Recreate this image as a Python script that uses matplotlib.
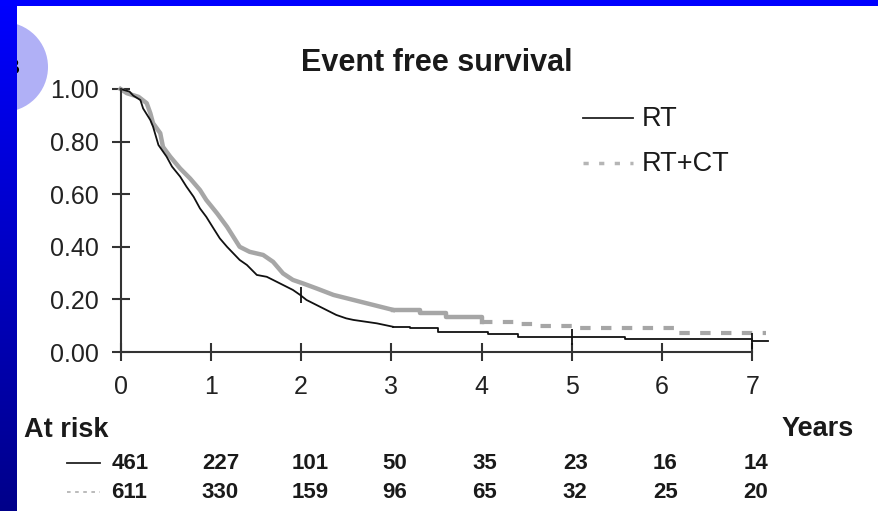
import numpy as np
import matplotlib
matplotlib.use("Agg")
import matplotlib.pyplot as plt
from matplotlib.lines import Line2D
from matplotlib.patches import Ellipse, Rectangle

plt.rcParams['font.family'] = ['Liberation Sans', 'DejaVu Sans']

# Kaplan-Meier curves (dense part traced, tail as steps)
rt_time = [0, 0.10, 0.14, 0.22, 0.25, 0.33, 0.36, 0.42, 0.51, 0.57, 0.66, 0.73, 0.81, 0.88,
           0.95, 1.03, 1.10, 1.18, 1.25, 1.32, 1.40, 1.51, 1.62, 1.69, 1.80, 1.91, 1.99,
           2.06, 2.17, 2.28, 2.39, 2.50, 2.58, 2.84, 3.02, 3.21, 3.52, 4.07, 4.40, 5.59,
           7.00, 7.17]
rt_surv = [1.0, 0.99, 0.975, 0.958, 0.926, 0.882, 0.857, 0.787, 0.743, 0.705, 0.667, 0.629,
           0.590, 0.546, 0.514, 0.470, 0.432, 0.400, 0.375, 0.350, 0.331, 0.293, 0.286,
           0.274, 0.255, 0.236, 0.217, 0.198, 0.179, 0.160, 0.141, 0.128, 0.122, 0.109,
           0.096, 0.090, 0.077, 0.068, 0.058, 0.048, 0.040, 0.040]

ct_time = [0, 0.07, 0.20, 0.29, 0.33, 0.36, 0.44, 0.47, 0.55, 0.66, 0.77, 0.88, 0.95, 1.07,
           1.18, 1.25, 1.32, 1.43, 1.58, 1.69, 1.80, 1.91, 2.02, 2.17, 2.36, 2.58, 2.80,
           3.02, 3.32, 3.61, 4.01, 4.39, 4.65, 5.01, 6.15, 7.15]
ct_surv = [1.0, 0.984, 0.97, 0.946, 0.908, 0.870, 0.832, 0.780, 0.743, 0.698, 0.660, 0.616,
           0.578, 0.527, 0.476, 0.438, 0.400, 0.381, 0.369, 0.343, 0.299, 0.274, 0.261,
           0.242, 0.217, 0.198, 0.179, 0.160, 0.147, 0.134, 0.114, 0.107, 0.100, 0.090,
           0.071, 0.071]

rt_censor = [2, 5, 7]
risk_years = [0, 1, 2, 3, 4, 5, 6, 7]
risk_rt = [461, 227, 101, 50, 35, 23, 16, 14]
risk_ct = [611, 330, 159, 96, 65, 32, 25, 20]
yticks = [0.0, 0.2, 0.4, 0.6, 0.8, 1.0]

W, H = 879, 511


def fx(px):
    return px / W


def fy(py):
    return 1 - py / H


def plot_km(ax, t, s, step_from, **kw):
    # dense early part looks continuous, the sparse tail shows its steps
    t = np.asarray(t)
    s = np.asarray(s)
    k = np.searchsorted(t, step_from)
    ax.plot(t[:k + 1], s[:k + 1], **kw)
    ax.plot(t[k:], s[k:], drawstyle='steps-post', **kw)


fig = plt.figure(figsize=(W / 100, H / 100), dpi=100)
fig.patch.set_facecolor('white')

ax = fig.add_axes([fx(107.0), fy(367.8), fx(779.4 - 107.0), (367.8 - 81.1) / H])
ax.set_facecolor('none')
ax.set_xlim(-0.15, 7.3)
ax.set_ylim(-0.06, 1.03)

axc = '#333333'
for side in ['top', 'right']:
    ax.spines[side].set_visible(False)
ax.spines['left'].set_position(('data', 0))
ax.spines['bottom'].set_position(('data', 0))
ax.spines['left'].set_bounds(0, 1)
ax.spines['bottom'].set_bounds(0, 7)
for side in ['left', 'bottom']:
    ax.spines[side].set_color(axc)
    ax.spines[side].set_linewidth(1.5)

ax.set_xticks(risk_years)
ax.set_yticks(yticks)
ax.set_yticklabels([f'{v:.2f}' for v in yticks])
ax.tick_params(direction='inout', length=13, width=1.5, color=axc,
               labelsize=18, labelcolor='#222222')
ax.tick_params(axis='y', pad=9)
ax.tick_params(axis='x', pad=10)

gray = '#a6a6a6'
ct_t = np.array(ct_time)
ct_s = np.array(ct_surv)
cut = np.searchsorted(ct_t, 4.01)
plot_km(ax, ct_t[:cut + 1], ct_s[:cut + 1], 3.0, color=gray, lw=3.2)
ax.plot(ct_t[cut:], ct_s[cut:], drawstyle='steps-post', color=gray, lw=3.0,
        linestyle=(0, (2.5, 2.5)))
plot_km(ax, rt_time, rt_surv, 3.0, color='#111111', lw=1.3)
ax.plot(rt_censor, [rt_surv[np.searchsorted(rt_time, c, side='right') - 1] for c in rt_censor],
        linestyle='none', marker='|', markersize=12, mew=1.3, color='#111111')

fig.text(fx(437), fy(63), 'Event free survival', ha='center', va='center',
         fontsize=22, fontweight='bold', color='#1a1a1a')

# legend
fig.add_artist(Line2D([fx(583), fx(633)], [fy(118), fy(118)], color='#222222', lw=1.3))
fig.add_artist(Line2D([fx(583), fx(633)], [fy(163), fy(163)], color='#b5b5b5', lw=2.5,
                      linestyle=(0, (1.5, 3))))
fig.text(fx(642), fy(119), 'RT', ha='left', va='center', fontsize=19.5, color='#1a1a1a')
fig.text(fx(642), fy(164), 'RT+CT', ha='left', va='center', fontsize=19.5, color='#1a1a1a')

# at-risk table
fig.text(fx(24), fy(430), 'At risk', ha='left', va='center', fontsize=19.5,
         fontweight='bold', color='#1a1a1a')
fig.text(fx(782), fy(429), 'Years', ha='left', va='center', fontsize=19.5,
         fontweight='bold', color='#1a1a1a')
trans = matplotlib.transforms.blended_transform_factory(ax.transData, fig.transFigure)
for yr, a, b in zip(risk_years, risk_rt, risk_ct):
    ax.text(yr - 0.1, fy(463), str(a), transform=trans, ha='left', va='center',
            fontsize=16, fontweight='bold', color='#1a1a1a')
    ax.text(yr - 0.1, fy(492), str(b), transform=trans, ha='left', va='center',
            fontsize=16, fontweight='bold', color='#1a1a1a')
fig.add_artist(Line2D([fx(67), fx(100)], [fy(463), fy(463)], color='#222222', lw=1.3))
fig.add_artist(Line2D([fx(67), fx(100)], [fy(492), fy(492)], color='#b5b5b5', lw=1.3,
                      linestyle=(0, (2, 2.5))))

# slide decoration: light circle, hidden letter, blue frame
fig.add_artist(Ellipse((0.03, (H - 67) / 100), 0.9, 0.9, transform=fig.dpi_scale_trans,
                       facecolor='#b0b0f6', edgecolor='none', zorder=1))
fig.text(fx(20), fy(68), 'B', ha='right', va='center', fontsize=16, fontweight='bold',
         color='black', zorder=2)
band = fig.add_axes([0, 0, fx(17), 1], zorder=10)
grad = np.linspace(0, 1, 256).reshape(-1, 1)
band.imshow(np.dstack([np.zeros_like(grad), np.zeros_like(grad), 1.0 - 0.46 * grad]),
            aspect='auto', extent=[0, 1, 0, 1], origin='upper')
band.axis('off')
fig.add_artist(Rectangle((0, fy(6)), 1, 6 / H, transform=fig.transFigure,
                         facecolor='#0000ff', edgecolor='none', zorder=11))

fig.savefig('out.png', dpi=100)
